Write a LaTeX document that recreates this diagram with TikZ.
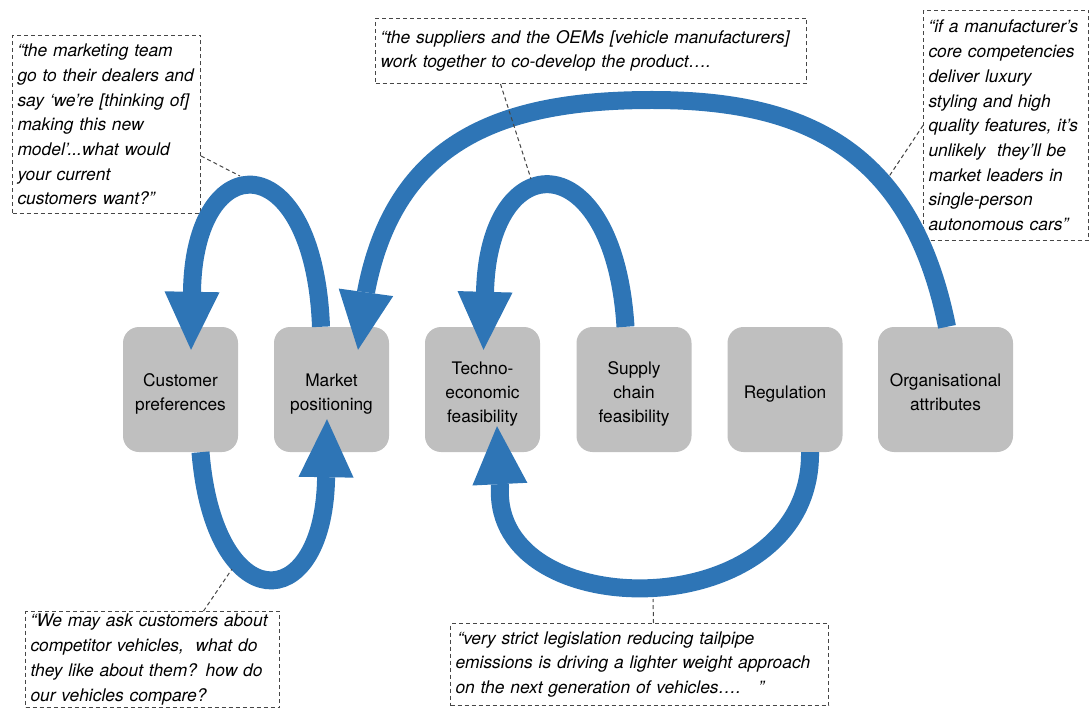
\documentclass[tikz,border=0pt]{standalone}
\usepackage{fontspec}
\setmainfont{TeX Gyre Heros}
\usetikzlibrary{arrows.meta,calc}
\definecolor{flowblue}{RGB}{46,117,182}
\definecolor{boxgray}{RGB}{191,191,191}
\definecolor{dashgray}{RGB}{70,70,70}
\newcommand\factortext[1]{\raisebox{0pt}[\dimexpr\height+8pt\relax][\depth]{\begin{tabular}{@{}c@{}}#1\end{tabular}}}
\begin{document}
\begin{tikzpicture}[x=1pt,y=-1pt,
  factor/.style={fill=boxgray, rounded corners=16pt, minimum width=115pt,
    minimum height=125pt, inner sep=0pt,
    font=\fontsize{17.3}{24}\selectfont},
  flow/.style={draw=flowblue, line width=18pt,
    -{Triangle[length=58pt,width=55pt,line width=0pt]}},
  quote/.style={draw=dashgray, line width=1pt, dash pattern=on 4pt off 3pt,
    anchor=north west, align=left, inner xsep=5pt, inner ysep=0pt,
    font=\itshape\fontsize{17.4}{24.7}\selectfont},
  lead/.style={draw=dashgray, line width=1pt, dash pattern=on 4pt off 3pt}]
\useasboundingbox (0,0) rectangle (1091,708);

% factor boxes
\node[factor] (cp) at (180.5,389.5) {\factortext{Customer\\preferences}};
\node[factor] (mp) at (331.5,389.5) {\factortext{Market\\positioning}};
\node[factor] (te) at (482.5,389.5) {\factortext{Techno-\\economic\\feasibility}};
\node[factor] (sc) at (634,389.5) {\factortext{Supply\\chain\\feasibility}};
\node[factor] (rg) at (785,389.5) {\factortext{Regulation}};
\node[factor, minimum width=135pt] (oa) at (945.5,389.5) {\factortext{Organisational\\attributes}};

% quote boxes
\node[quote, text width=178pt, minimum height=178pt] (q1) at (12,35)
  {“the marketing team\\go to their dealers and\\say ‘we’re [thinking of]\\making this new\\model’...what would\\your current\\customers want?”};
\node[quote, text width=421pt, minimum height=65pt] (q2) at (375,18)
  {“the suppliers and the OEMs [vehicle manufacturers]\\work together to co-develop the product….};
\node[quote, text width=155pt, minimum height=230pt] (q3) at (923,10)
  {“if a manufacturer’s\\core competencies\\deliver luxury\\styling and high\\quality features, it’s\\unlikely\ \ they’ll be\\market leaders in\\single-person\\autonomous cars”};
\node[quote, text width=244pt, minimum height=96pt] (q4) at (25,611)
  {“We may ask customers about\\competitor vehicles,\ \ what do\\they like about them? how do\\our vehicles compare?};
\node[quote, text width=368pt, minimum height=82pt] (q5) at (450,623)
  {\hspace{2pt}“very strict legislation reducing tailpipe\\emissions is driving a lighter weight approach\\on the next generation of vehicles….\ \ \ "};

% flows
\draw[flow] ($(mp.north)+(-10.5,0)$) .. controls (314,143.5) and (194,143.5) .. (192,292)
  -- ($(cp.north)+(10.5,23)$);
\draw[flow] ($(cp.south)+(20,0)$) .. controls (214,618) and (322,618) .. (326,481)
  -- ($(mp.south)+(-4.5,-33)$);
\draw[flow] ($(sc.north)+(-8.5,0)$) .. controls (614,142.7) and (488,142.7) .. (485,293)
  -- ($(te.north)+(1,23)$);
\draw[flow] ($(oa.north)+(1.5,0)$) .. controls (911,147) and (802,100) .. (652,100)
  .. controls (502,100) and (395,140) .. (366,292)
  -- ($(mp.north)+(26.5,23)$);
\draw[flow] ($(rg.south)+(25,0)$) .. controls (812,627.5) and (492,627.5) .. (500,487)
  -- ($(te.south)+(14.5,-26)$);

% leader lines
\coordinate (l1) at (240,176);
\coordinate (l2) at (531,179);
\coordinate (l3) at (888,178);
\coordinate (l4) at (232,569);
\coordinate (l5) at (653,599);
\draw[lead] ($(q1.south east)+(0,-58)$) -- (l1);
\draw[lead] ($(q2.south)+(-90.5,0)$) -- (l2);
\draw[lead] (q3.west) -- (l3);
\draw[lead] ($(q4.north)+(51,0)$) -- (l4);
\draw[lead] ($(q5.north)+(14,0)$) -- (l5);
\end{tikzpicture}
\end{document}
